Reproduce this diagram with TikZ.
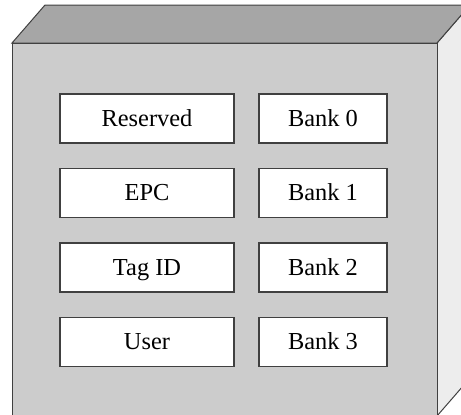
\documentclass[tikz,border=0pt]{standalone}
\usepackage{fontspec}
\setmainfont{Liberation Serif}
\usepackage{tikz}
\definecolor{frontgray}{HTML}{CCCCCC}
\definecolor{topgray}{HTML}{A6A6A6}
\definecolor{sidegray}{HTML}{EDEDED}
\definecolor{edgegray}{HTML}{404040}
\tikzset{
  memfield/.style={draw=edgegray, line width=0.6pt, fill=white, minimum width=87pt, minimum height=24.5pt, inner sep=0pt, text height=1.8ex, text depth=0.1ex, font=\fontsize{12.2}{14}\selectfont},
  membank/.style={memfield, minimum width=64pt}
}

\begin{document}
\begin{tikzpicture}[x=0.5pt,y=-0.5pt]
        \useasboundingbox (0,0) rectangle (461,414);
        \clip (0,0) rectangle (461,414);

        % the box: side, top, front
        \filldraw[fill=sidegray, draw=edgegray, line width=0.5pt] (437,43) -- (470,5) -- (470,378) -- (437,416) -- cycle;
        \filldraw[fill=topgray, draw=edgegray, line width=0.5pt] (12,43) -- (45,5) -- (470,5) -- (437,43) -- cycle;
        \filldraw[fill=frontgray, draw=edgegray, line width=0.5pt] (12,43) rectangle (437,416);

        % memory fields
        \node[memfield] (reserved) at (147,118.5) {Reserved};
        \node[memfield] (epc) at (147,193) {EPC};
        \node[memfield] (tagid) at (147,267.5) {Tag ID};
        \node[memfield] (user) at (147,342) {User};

        % banks
        \node[membank] (bank0) at (323,118.5) {Bank 0};
        \node[membank] (bank1) at (323,193) {Bank 1};
        \node[membank] (bank2) at (323,267.5) {Bank 2};
        \node[membank] (bank3) at (323,342) {Bank 3};
    \end{tikzpicture}
\end{document}
